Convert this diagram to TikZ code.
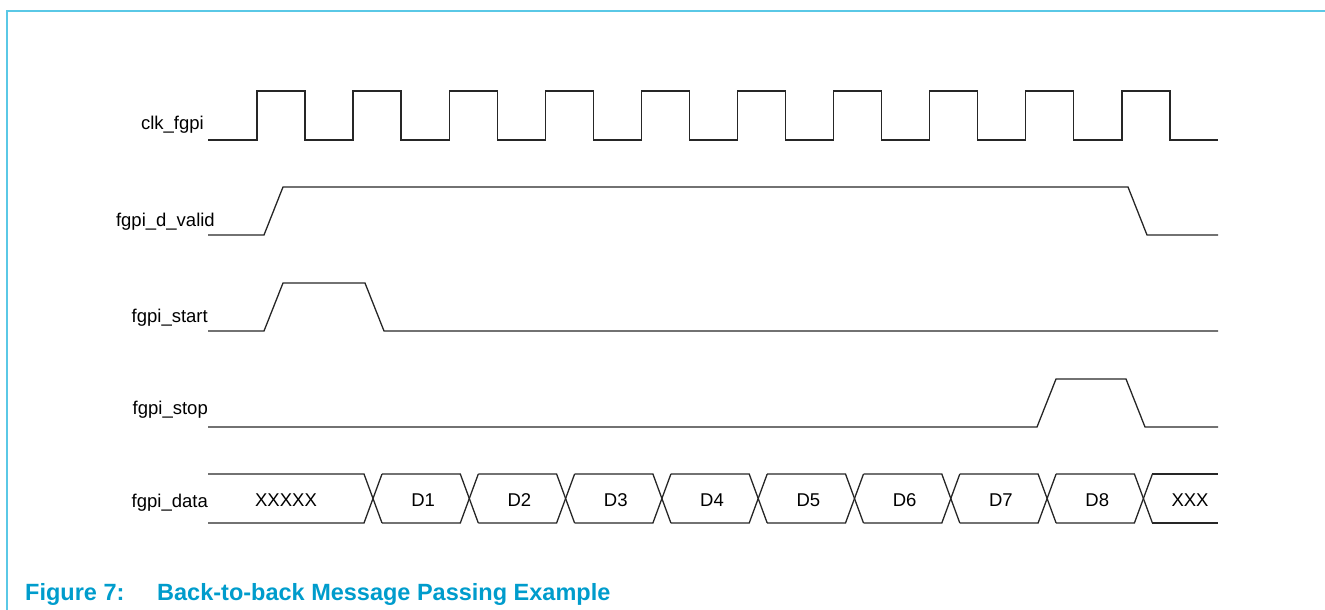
\documentclass[tikz,border=0pt]{standalone}
\usepackage{fontspec}
\setmainfont{Liberation Sans}
\definecolor{capblue}{RGB}{0,156,204}
\definecolor{frameblue}{RGB}{90,200,230}
\begin{document}
\begin{tikzpicture}[x=1pt,y=-1pt,
  wave/.style={line width=1.3pt, black!85, line join=miter},
  siglabel/.style={font=\fontsize{18.5}{20}\selectfont, inner sep=0pt, anchor=base east},
  datalabel/.style={font=\fontsize{18.5}{20}\selectfont, inner sep=0pt, anchor=base},
  captext/.style={font=\bfseries\fontsize{23.5}{25}\selectfont, text=capblue, inner sep=0pt, anchor=base west}]
\useasboundingbox (0,0) rectangle (1325,610);
% frame
\draw[frameblue, line width=2pt] (7.3,610) -- (7.3,10.7) -- (1325,10.7);
% labels
\node[siglabel] (lclk) at (204,129) {clk\_fgpi};
\node[siglabel] (lvalid) at (215,226) {fgpi\_d\_valid};
\node[siglabel] (lstart) at (208,322) {fgpi\_start};
\node[siglabel] (lstop) at (208,414) {fgpi\_stop};
\node[siglabel] (ldata) at (208,507) {fgpi\_data};
% clock
\draw[wave] (208,140) foreach \k in {0,...,9}{ -- ({257+96.1*\k},140) -- ++(0,-49) -- ++(48,0) -- ++(0,49)} -- (1218,140);
% valid
\draw[wave] (208,235) -- (264,235) -- (283,187) -- (1128,187) -- (1147,235) -- (1218,235);
% start
\draw[wave] (208,331) -- (264,331) -- (283,283) -- (365,283) -- (384,331) -- (1218,331);
% stop
\draw[wave] (208,427) -- (1037,427) -- (1056,379) -- (1126,379) -- (1145,427) -- (1218,427);
% data bus
\draw[wave] (208,474) -- (364,474) -- (382,523);
\draw[wave] (208,523) -- (364,523) -- (382,474);
\foreach \k in {0,...,7}{
  \pgfmathsetmacro{\ca}{373+96.3*\k}
  \pgfmathsetmacro{\cb}{373+96.3*(\k+1)}
  \draw[wave] (\ca+9,474) -- (\cb-9,474) -- (\cb+9,523);
  \draw[wave] (\ca+9,523) -- (\cb-9,523) -- (\cb+9,474);
}
\draw[wave] ({373+96.3*8+9},474) -- (1218,474);
\draw[wave] ({373+96.3*8+9},523) -- (1218,523);
\node[datalabel] (dx) at (286,506) {XXXXX};
\foreach \k/\t in {1/D1,2/D2,3/D3,4/D4,5/D5,6/D6,7/D7,8/D8}{
  \node[datalabel] (d\k) at ({373+96.3*(\k-0.5)+2},506) {\t};
}
\node[datalabel] (dxx) at (1190,506) {XXX};
% caption
\node[captext] (fig) at (25,600) {Figure 7:};
\node[captext] (title) at (157,600) {Back-to-back Message Passing Example};
\end{tikzpicture}
\end{document}
